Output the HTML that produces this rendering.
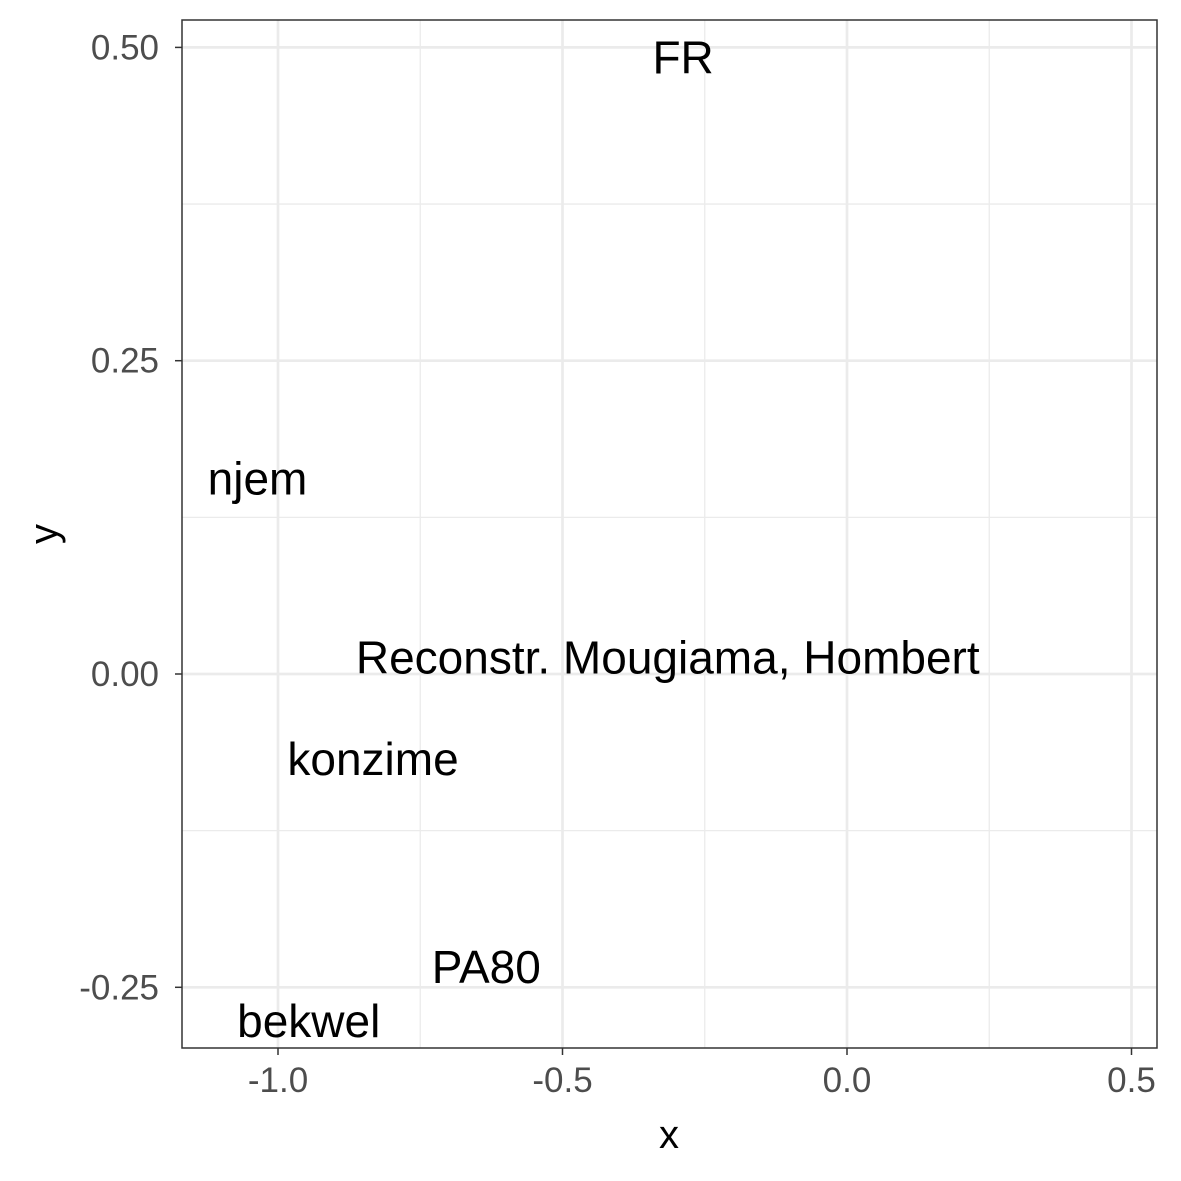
<!DOCTYPE html>
<html><head><meta charset="utf-8"><style>
html,body{margin:0;padding:0;background:#fff}
svg{display:block;font-family:"Liberation Sans",Arial,sans-serif}
</style></head><body>
<svg id="chart" width="1181" height="1181" viewBox="0 0 1181 1181" xmlns="http://www.w3.org/2000/svg">
<rect x="0" y="0" width="1181" height="1181" fill="#fff"/>
<g id="grid"></g>
<g id="marks"></g>
<rect x="182" y="20" width="975" height="1028" fill="none" stroke="#333" stroke-width="1.5"/>
<g id="axes"></g>
<text x="669" y="1148" font-size="40" text-anchor="middle" fill="#000">x</text>
<text x="44" y="534" font-size="40" text-anchor="middle" fill="#000" transform="rotate(-90 44 534)" dominant-baseline="central">y</text>
</svg>
<script>
const labels = ["FR","njem","Reconstr. Mougiama, Hombert","konzime","PA80","bekwel"];
const xs = [-0.288,-1.036,-0.315,-0.833,-0.634,-0.946];
const ys = [0.492,0.156,0.013,-0.068,-0.234,-0.277];
const xTicks = [-1.0,-0.5,0.0,0.5];
const xTickLabels = ["-1.0","-0.5","0.0","0.5"];
const yTicks = [-0.25,0,0.25,0.5];
const yTickLabels = ["-0.25","0.00","0.25","0.50"];
const xMinor = [-0.75,-0.25,0.25];
const yMinor = [-0.125,0.125,0.375];

const L=182,R=1157,T=20,B=1048;
function sx(v){return 847+v*569;}
function sy(v){return 674-v*1253.2;}
const NS="http://www.w3.org/2000/svg";
function mk(tag,attrs,parent){const e=document.createElementNS(NS,tag);for(const k in attrs)e.setAttribute(k,attrs[k]);parent.appendChild(e);return e;}
const grid=document.getElementById('grid'),marks=document.getElementById('marks'),axes=document.getElementById('axes');
xMinor.forEach(v=>{const e=mk('line',{x1:sx(v),x2:sx(v),y1:T,y2:B,stroke:'#ebebeb','stroke-width':1.3},grid);

});
yMinor.forEach(v=>{const e=mk('line',{x1:L,x2:R,y1:sy(v),y2:sy(v),stroke:'#ebebeb','stroke-width':1.3},grid);

});
xTicks.forEach((v,i)=>{const g=mk('line',{x1:sx(v),x2:sx(v),y1:T,y2:B,stroke:'#ebebeb','stroke-width':2.7},grid);


const t=mk('line',{x1:sx(v),x2:sx(v),y1:B,y2:B+7,stroke:'#333','stroke-width':1.5},axes);


const l=mk('text',{x:sx(v),y:B+44,'font-size':35,'text-anchor':'middle',fill:'#4d4d4d'},axes);l.textContent=xTickLabels[i];

});
yTicks.forEach((v,i)=>{const g=mk('line',{x1:L,x2:R,y1:sy(v),y2:sy(v),stroke:'#ebebeb','stroke-width':2.7},grid);


const t=mk('line',{x1:L-7,x2:L,y1:sy(v),y2:sy(v),stroke:'#333','stroke-width':1.5},axes);


const l=mk('text',{x:L-23,y:sy(v)+12,'font-size':35,'text-anchor':'end',fill:'#4d4d4d'},axes);l.textContent=yTickLabels[i];

});
labels.forEach((s,i)=>{const t=mk('text',{x:sx(xs[i]),y:sy(ys[i])+16,'font-size':46,'text-anchor':'middle',fill:'#000'},marks);t.textContent=s;

});
</script>
</body></html>
